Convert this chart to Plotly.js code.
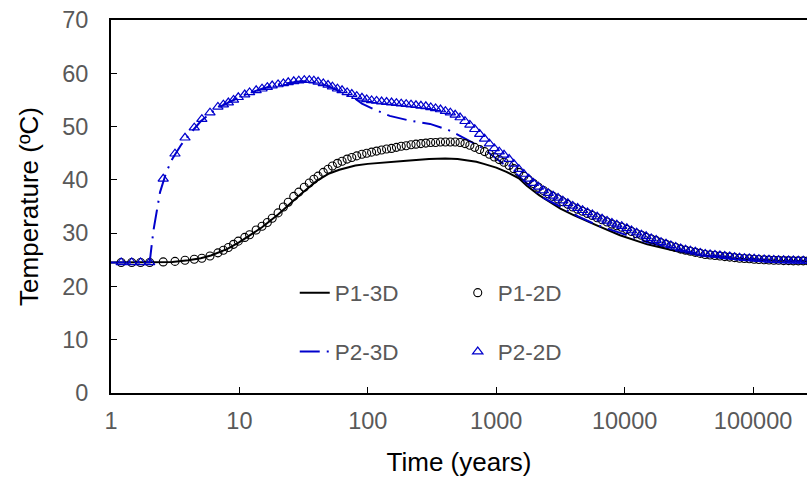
<!DOCTYPE html>
<html>
<head>
<meta charset="utf-8">
<script src="https://cdn.plot.ly/plotly-3.0.1.min.js"></script>
<style>html,body{margin:0;padding:0;background:#fff;}#chart{width:807px;height:484px;}</style>
</head>
<body>
<div id="chart"></div>
<script>
// ---- data ----
const xTickVals = [1, 10, 100, 1000, 10000, 100000];
const xTickText = ['1', '10', '100', '1000', '10000', '100000'];

// 2D simulation output times (years)
const time2D = [1.2, 1.45, 1.7, 2.0, 2.55, 3.15, 3.77, 4.45, 5.1, 5.9,
  6.8, 7.5, 8.2, 9, 9.8, 11, 12, 13.5, 15, 16.5,
  18, 20, 22, 24, 26.5, 29, 32, 35, 38, 41,
  45, 49, 53, 58, 63, 69, 75, 82, 90, 98,
  107, 117, 128, 140, 153, 167, 182, 199, 217, 237,
  259, 283, 309, 337, 368, 402, 439, 479, 523, 571,
  623, 680, 743, 811, 885, 966, 1055, 1150, 1260, 1370,
  1500, 1640, 1790, 1950, 2130, 2330, 2540, 2770, 3030, 3300,
  3610, 3940, 4300, 4700, 5130, 5600, 6110, 6670, 7290, 7960,
  8690, 9490, 10400, 11300, 12400, 13500, 14700, 16100, 17600, 19200,
  21000, 22900, 25000, 27300, 29800, 32500, 35500, 38800, 42400, 46300,
  50500, 55200, 60200, 65800, 71800, 78400, 85600, 93500, 102000, 111000,
  122000, 133000, 145000, 158000, 173000, 189000, 206000, 225000, 246000, 268000];

const p1_2D = [24.5, 24.5, 24.5, 24.5, 24.6, 24.7, 24.9, 25.1, 25.3, 25.7,
  26.3, 26.8, 27.3, 27.9, 28.5, 29.2, 29.7, 30.6, 31.3, 32.0,
  32.8, 33.8, 34.9, 35.8, 36.9, 37.7, 38.6, 39.4, 40.1, 40.7,
  41.4, 42.0, 42.6, 43.1, 43.5, 43.9, 44.2, 44.5, 44.8, 45.0,
  45.2, 45.4, 45.6, 45.8, 45.9, 46.1, 46.3, 46.4, 46.6, 46.7,
  46.8, 46.9, 47.0, 47.0, 47.1, 47.1, 47.1, 47.1, 47.0, 46.8,
  46.5, 46.1, 45.7, 45.3, 44.8, 44.3, 43.8, 43.3, 42.7, 42.1,
  41.4, 40.7, 40.0, 39.3, 38.6, 38.0, 37.4, 36.9, 36.4, 35.9,
  35.4, 34.9, 34.5, 34.1, 33.7, 33.3, 32.9, 32.5, 32.1, 31.7,
  31.4, 31.1, 30.7, 30.3, 29.9, 29.6, 29.2, 28.9, 28.6, 28.2,
  27.9, 27.6, 27.3, 27.0, 26.8, 26.6, 26.4, 26.2, 26.0, 25.9,
  25.8, 25.7, 25.6, 25.5, 25.4, 25.3, 25.25, 25.2, 25.1, 25.05,
  25.0, 24.95, 24.9, 24.9, 24.85, 24.85, 24.8, 24.8, 24.8, 24.8];

const p2_2D = [24.5, 24.5, 24.5, 24.5, 40.2, 44.9, 47.9, 49.8, 51.4, 52.6,
  53.7, 54.1, 54.5, 55.0, 55.5, 56.0, 56.4, 56.8, 57.1, 57.4,
  57.7, 57.9, 58.1, 58.3, 58.5, 58.6, 58.7, 58.7, 58.6, 58.4,
  58.1, 57.8, 57.5, 57.1, 56.8, 56.4, 56.1, 55.7, 55.4, 55.1,
  54.9, 54.8, 54.7, 54.6, 54.5, 54.4, 54.3, 54.2, 54.1, 54.0,
  53.9, 53.8, 53.6, 53.4, 53.2, 52.9, 52.6, 52.2, 51.7, 51.0,
  50.3, 49.5, 48.6, 47.7, 46.8, 45.9, 45.3, 44.7, 43.9, 43.0,
  42.0, 41.1, 40.2, 39.4, 38.7, 38.0, 37.5, 37.0, 36.6, 36.1,
  35.6, 35.1, 34.7, 34.3, 33.9, 33.5, 33.1, 32.7, 32.3, 31.9,
  31.6, 31.3, 30.9, 30.5, 30.1, 29.7, 29.4, 29.0, 28.7, 28.3,
  28.0, 27.7, 27.4, 27.1, 26.9, 26.7, 26.5, 26.3, 26.1, 26.0,
  25.9, 25.8, 25.7, 25.6, 25.5, 25.4, 25.3, 25.25, 25.2, 25.1,
  25.05, 25.0, 24.95, 24.9, 24.9, 24.85, 24.85, 24.8, 24.8, 24.8];

// 3D simulation curves
const timeP1_3D = [1, 2, 3, 4, 5, 6, 7, 8, 10, 12, 15, 20, 25, 30, 40, 50, 60, 70, 80, 100,
  150, 200, 300, 400, 500, 600, 700, 800, 1000, 1200, 1500, 1730, 2170, 3160, 4000, 6000,
  9200, 15000, 25500, 40000, 76000, 150000, 270000];
const p1_3D = [24.5, 24.5, 24.6, 24.9, 25.3, 25.8, 26.4, 27.0, 28.3, 29.5, 31.1, 33.5, 35.6, 37.3, 39.8, 41.2, 41.9, 42.4, 42.7, 43.0,
  43.4, 43.6, 43.9, 44.0, 43.9, 43.7, 43.4, 43.0, 42.3, 41.5, 40.3, 38.9, 37.1, 34.6, 33.4, 31.5,
  29.6, 27.9, 26.6, 25.8, 25.2, 24.8, 24.7];

const timeP2_3D = [1, 2, 2.14, 2.41, 2.7, 3, 3.5, 4, 5, 6, 7, 8, 10, 12, 15, 20, 25, 30, 35, 40,
  50, 60, 77, 90, 110, 148, 213, 305, 420, 500, 630, 770, 1000, 1350, 1700, 2300, 3160, 4300,
  6000, 9200, 15000, 25500, 40000, 76000, 150000, 270000];
const p2_3D = [24.5, 24.5, 30.5, 37.7, 41.5, 43.9, 46.5, 48.3, 51.0, 52.6, 53.7, 54.4, 55.5, 56.3, 57.1, 57.9, 58.3, 58.5, 58.5, 58.3,
  57.5, 56.7, 55.5, 54.3, 53.3, 52.0, 51.1, 50.5, 49.4, 48.5, 47.3, 46.1, 44.0, 41.7, 39.5, 36.7, 35.0, 33.2,
  31.6, 30.1, 28.3, 27.0, 26.0, 25.3, 24.9, 24.7];

// ---- styling ----
const BLUE = '#0000CC';
const FONT = 'Liberation Sans, Arial, sans-serif';
const GREY = '#595959';

const traces = [
  {x: timeP1_3D, y: p1_3D, name: 'P1-3D', mode: 'lines', type: 'scatter',
   line: {color: 'black', width: 2}, legend: 'legend'},
  {x: timeP2_3D, y: p2_3D, name: 'P2-3D', mode: 'lines', type: 'scatter',
   line: {color: BLUE, width: 2, dash: '20px,7px,2px,7px'}, legend: 'legend2'},
  {x: time2D, y: p1_2D, name: 'P1-2D', mode: 'markers', type: 'scatter',
   marker: {symbol: 'circle-open', size: 8, color: 'black', line: {width: 1.1, color: 'black'}}, legend: 'legend'},
  {x: time2D, y: p2_2D, name: 'P2-2D', mode: 'markers', type: 'scatter',
   marker: {symbol: 'triangle-up-open', size: 9, color: BLUE, line: {width: 1.2, color: BLUE}}, legend: 'legend2'}
];

const legendBase = {
  orientation: 'h', xanchor: 'left', yanchor: 'middle', x: 0.264,
  entrywidth: 118, entrywidthmode: 'pixels', traceorder: 'normal',
  bgcolor: 'rgba(0,0,0,0)', borderwidth: 0,
  font: {family: FONT, size: 22.5, color: GREY}
};

const layout = {
  width: 807, height: 484,
  margin: {l: 111, r: 0, t: 20, b: 91, pad: 0},
  paper_bgcolor: 'white', plot_bgcolor: 'white',
  font: {family: FONT, color: GREY},
  showlegend: true,
  xaxis: {
    type: 'log', range: [0, 5.42],
    tickvals: xTickVals, ticktext: xTickText,
    ticks: 'inside', ticklen: 6, tickwidth: 1, tickcolor: 'black',
    showline: true, linecolor: 'black', linewidth: 2, mirror: true,
    showgrid: false, zeroline: false,
    ticklabelstandoff: 6,
    tickfont: {family: FONT, size: 23.5, color: GREY},
    title: {text: 'Time (years)', font: {family: FONT, size: 26, color: 'black'}, standoff: 20}
  },
  yaxis: {
    range: [0, 70], tick0: 0, dtick: 10,
    ticks: 'inside', ticklen: 6, tickwidth: 1, tickcolor: 'black',
    showline: true, linecolor: 'black', linewidth: 2, mirror: false,
    showgrid: false, zeroline: false,
    ticklabelstandoff: 16,
    tickfont: {family: FONT, size: 23.5, color: GREY},
    title: {text: 'Temperature (ºC)', font: {family: FONT, size: 26, color: 'black'}, standoff: 16}
  },
  legend: Object.assign({}, legendBase, {y: 0.268}),
  legend2: Object.assign({}, legendBase, {y: 0.11})
};

Plotly.newPlot('chart', traces, layout, {staticPlot: true, displayModeBar: false});
</script>
</body>
</html>
